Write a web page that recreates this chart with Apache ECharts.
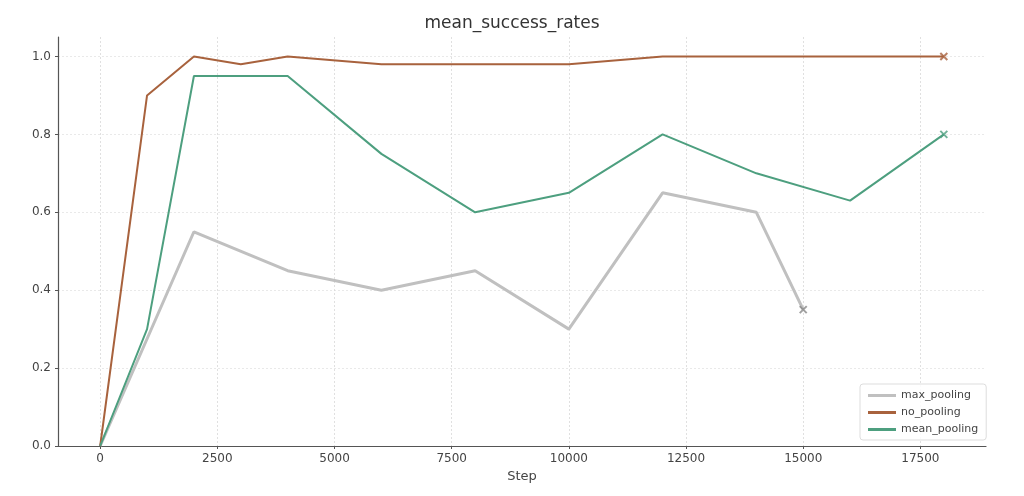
<!DOCTYPE html>
<html><head><meta charset="utf-8">
<script src="https://cdn.jsdelivr.net/npm/echarts@6/dist/echarts.min.js"></script>
<style>html,body{margin:0;padding:0;background:#fff}#c{width:1024px;height:496px}</style>
</head><body><div id="c"></div>
<script>
const maxSteps  = [0, 2000, 4000, 6000, 8000, 10000, 12000, 14000, 15000];
const maxVals   = [0, 0.55, 0.45, 0.40, 0.45, 0.30, 0.65, 0.60, 0.35];
const noSteps   = [0, 1000, 2000, 3000, 4000, 6000, 8000, 10000, 12000, 14000, 16000, 18000];
const noVals    = [0, 0.90, 1.00, 0.98, 1.00, 0.98, 0.98, 0.98, 1.00, 1.00, 1.00, 1.00];
const meanSteps = [0, 1000, 2000, 4000, 6000, 8000, 10000, 12000, 14000, 16000, 18000];
const meanVals  = [0, 0.30, 0.95, 0.95, 0.75, 0.60, 0.65, 0.80, 0.70, 0.63, 0.80];
const names = ['max_pooling', 'no_pooling', 'mean_pooling'];
const xTicks = [0, 2500, 5000, 7500, 10000, 12500, 15000, 17500];
const yTicks = [0, 0.2, 0.4, 0.6, 0.8, 1.0];

const colors = ['#c0c0c0', '#a8623d', '#4d9f7f'];
const markColors = ['#8a8a8a', '#a8623d', '#4d9f7f'];
const widths = [3, 2, 2];
function pairs(xs, ys){ return xs.map((x,i)=>[x, ys[i]]); }
const sets = [pairs(maxSteps,maxVals), pairs(noSteps,noVals), pairs(meanSteps,meanVals)];

const series = [];
sets.forEach((d,i)=>{
  series.push({name:names[i], type:'line', data:d, symbol:'none', smooth:false,
    lineStyle:{color:colors[i], width:widths[i]}, itemStyle:{color:colors[i]}, z:2+i, animation:false});
});
sets.forEach((d,i)=>{
  series.push({name:names[i]+'_end', type:'scatter', data:[d[d.length-1]], symbol:'path://M0,0L10,10M0,10L10,0',
    symbolSize:7, itemStyle:{color:'none', borderColor:markColors[i], borderWidth:2}, z:10, animation:false, silent:true});
});

const chart = echarts.init(document.getElementById('c'), null, {renderer:'canvas'});
chart.setOption({
  backgroundColor:'#fff',
  animation:false,
  title:{text:'mean_success_rates', left:'center', top:10, textStyle:{fontFamily:'DejaVu Sans', fontSize:17, fontWeight:'normal', color:'#333'}},
  grid:{left:58, right:38, top:37, bottom:50, containLabel:false},
  legend:{data:names.map((n,i)=>({name:n, itemStyle:{color:colors[i]}})), orient:'vertical', left:860, top:384,
    itemWidth:28, itemHeight:3, icon:'rect', itemGap:6, padding:[6,8,5,8],
    borderColor:'#dddddd', borderWidth:1, borderRadius:3, backgroundColor:'rgba(255,255,255,0.85)',
    textStyle:{fontFamily:'DejaVu Sans', fontSize:11, color:'#444'}},
  xAxis:{type:'value', min:-900, max:18900, interval:2500,
    name:'Step', nameLocation:'middle', nameGap:22, nameTextStyle:{fontFamily:'DejaVu Sans', fontSize:13, color:'#444'},
    axisLine:{show:true, onZero:false, lineStyle:{color:'#555', width:1.2}},
    axisLabel:{fontFamily:'DejaVu Sans', fontSize:12, color:'#444', margin:7,
      customValues:xTicks, formatter:v=>String(v)},
    splitLine:{show:true, lineStyle:{color:'#d8d8d8', type:[2,2], width:0.8}},
    axisTick:{show:true, length:3, customValues:xTicks, lineStyle:{color:'#555'}}},
  yAxis:{type:'value', min:0, max:1.05,
    axisLine:{show:true, onZero:false, lineStyle:{color:'#555', width:1.2}},
    axisTick:{show:true, length:3, customValues:yTicks, lineStyle:{color:'#555'}},
    axisLabel:{fontFamily:'DejaVu Sans', fontSize:12, color:'#444', margin:7, customValues:yTicks, formatter:v=>v.toFixed(1)},
    splitLine:{show:true, lineStyle:{color:'#e4e4e4', type:[2,2], width:0.8}}},
  series:series
});
</script></body></html>
